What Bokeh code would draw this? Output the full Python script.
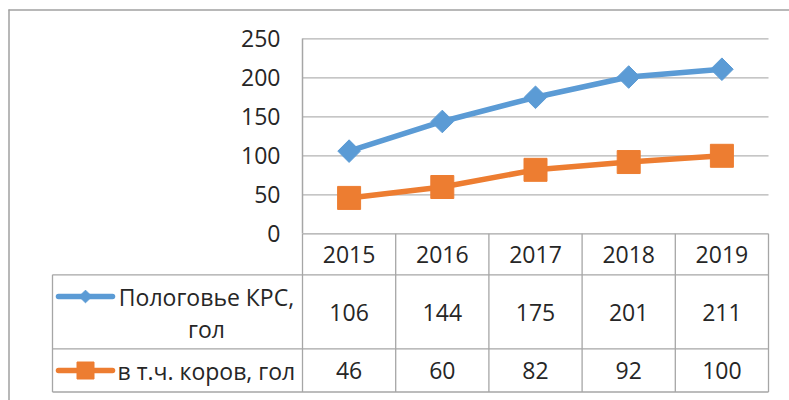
from bokeh.plotting import figure
from bokeh.models import Range1d, LinearAxis, FixedTicker
from bokeh.core.properties import value
from bokeh.embed import file_html
from bokeh.resources import INLINE

# ---- data ----
years = ["2015", "2016", "2017", "2018", "2019"]
herd = [106, 144, 175, 201, 211]          # Пологовье КРС, гол
cows = [46, 60, 82, 92, 100]              # в т.ч. коров, гол
series_line1 = ["Пологовье КРС,", "в т.ч. коров, гол"]
series_line2 = ["гол", ""]
y_ticks = [0, 50, 100, 150, 200, 250]

BLUE = "#5B9BD5"
ORANGE = "#ED7D31"
TXT = "#262626"
GRID = "#b3b3b3"
LINE = "#a6a6a6"
FRAME = "#a0a0a0"
FONT = "Open Sans"
FS = "23px"

xs = list(range(len(years)))

# ---- layout constants (canvas pixels) ----
W, H = 789, 400
PLOT_L, PLOT_R = 302, 768       # plot area left / right
Y0_PX, Y250_PX = 233.3, 38.3    # canvas y of value 0 and 250
cw = (PLOT_R - PLOT_L) / len(years)
kv = (Y0_PX - Y250_PX) / 250.0  # px per value unit


def px(cx):
    return -0.5 + (cx - PLOT_L) / cw


def py(cy):
    return (Y0_PX - cy) / kv


p = figure(width=W, height=H, x_range=Range1d(px(0), px(W)),
           y_range=Range1d(py(H), py(0)), output_backend="svg",
           toolbar_location=None, x_axis_type=None, y_axis_type=None,
           min_border=0, outline_line_color=None,
           background_fill_color="white", border_fill_color="white")
p.xgrid.visible = False
p.ygrid.visible = False

x_lo, x_hi = -0.5, len(years) - 0.5

# horizontal grid lines (value ticks) across the plot area
gt = y_ticks[1:]
p.segment(x0=[x_lo] * len(gt), y0=gt, x1=[x_hi] * len(gt), y1=gt,
          line_color=GRID, line_width=1.2)

# y axis drawn at the plot-area edge
yax = LinearAxis(ticker=FixedTicker(ticks=y_ticks), fixed_location=x_lo,
                 bounds=(0, 250), axis_line_color=LINE, axis_line_width=1.5,
                 major_tick_line_color=None, minor_tick_line_color=None,
                 major_tick_out=0, major_tick_in=0, major_label_standoff=22,
                 major_label_text_font=FONT, major_label_text_font_size=FS,
                 major_label_text_color=TXT)
p.add_layout(yax, "left")

# ---- data table ----
r_top, r_head, r1, r2 = 0, py(274.3), py(348.3), py(391.5)
xl = px(52)
p.segment(x0=[x_lo, xl, xl, xl], y0=[r_top, r_head, r1, r2],
          x1=[x_hi] * 4, y1=[r_top, r_head, r1, r2],
          line_color=LINE, line_width=1.3)
vx = [i - 0.5 for i in range(len(years) + 1)]
p.segment(x0=vx, y0=[r_top] * len(vx), x1=vx, y1=[r2] * len(vx),
          line_color=LINE, line_width=1.3)
p.segment(x0=[xl], y0=[r_head], x1=[xl], y1=[r2], line_color=LINE,
          line_width=1.3)

# outer chart frame (left and top edges)
p.segment(x0=[px(8.5), px(8)], y0=[py(9), py(9.5)],
          x1=[px(8.5), px(W)], y1=[py(H), py(9.5)],
          line_color=FRAME, line_width=1.5)

# ---- series ----
p.line(xs, herd, line_color=BLUE, line_width=5.5)
p.scatter(xs, herd, marker="square", angle=0.785398, size=16,
          fill_color=BLUE, line_color=BLUE)
p.line(xs, cows, line_color=ORANGE, line_width=5.5)
p.scatter(xs, cows, marker="square", size=23, fill_color=ORANGE,
          line_color=ORANGE)

txt = dict(text_font=value(FONT), text_font_size=FS, text_color=TXT,
           text_align="center", text_baseline="middle")
p.text(x=xs, y=[py(253.5)] * len(xs), text=years, **txt)
p.text(x=xs, y=[py(312)] * len(xs), text=[str(v) for v in herd], **txt)
p.text(x=xs, y=[py(370)] * len(xs), text=[str(v) for v in cows], **txt)

# legend keys + names
ky = [py(296), py(370)]
p.segment(x0=[px(58)] * 2, y0=ky, x1=[px(112)] * 2, y1=ky,
          line_color=[BLUE, ORANGE], line_width=5.5, line_cap="round")
p.scatter([px(85)], [ky[0]], marker="square", angle=0.785398, size=9,
          fill_color=BLUE, line_color=BLUE)
p.scatter([px(85)], [ky[1]], marker="square", size=17,
          fill_color=ORANGE, line_color=ORANGE)
p.text(x=[px(206)], y=[py(296)], text=[series_line1[0]], **txt)
p.text(x=[px(206)], y=[py(328)], text=[series_line2[0]], **txt)
p.text(x=[px(117)], y=[py(370)], text=[series_line1[1]],
       text_font=value(FONT), text_font_size=FS, text_color=TXT,
       text_align="left", text_baseline="middle")

open("out.html", "w").write(file_html(p, INLINE))
